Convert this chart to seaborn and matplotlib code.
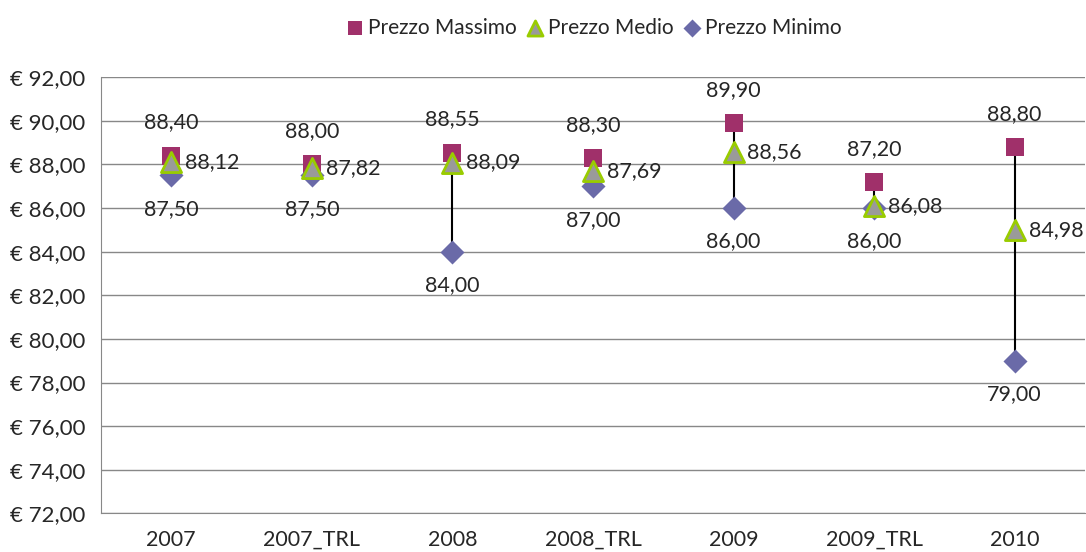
import pandas as pd
import matplotlib.pyplot as plt
import seaborn as sns
from matplotlib.ticker import FuncFormatter, FixedLocator

# data
anni = ["2007", "2007_TRL", "2008", "2008_TRL", "2009", "2009_TRL", "2010"]
prezzo_max = [88.40, 88.00, 88.55, 88.30, 89.90, 87.20, 88.80]
prezzo_medio = [88.12, 87.82, 88.09, 87.69, 88.56, 86.08, 84.98]
prezzo_min = [87.50, 87.50, 84.00, 87.00, 86.00, 86.00, 79.00]

df = pd.DataFrame({"Anno": anni, "Max": prezzo_max, "Medio": prezzo_medio, "Min": prezzo_min})

sns.set_style("white")
plt.rcParams["font.family"] = ["Lato", "DejaVu Sans"]

fig, ax = plt.subplots(figsize=(10.86, 5.52), dpi=100)
fig.subplots_adjust(left=0.093, right=0.999, top=0.86, bottom=0.07)

# high-low lines
for i, row in df.iterrows():
    ax.plot([i, i], [row["Min"], row["Max"]], color="black", lw=1.5, zorder=2)

sns.scatterplot(x="Anno", y="Max", data=df, marker="s", s=170, color="#A0306A",
                edgecolor="#A0306A", linewidth=0, label="Prezzo Massimo", zorder=3, ax=ax)
sns.scatterplot(x="Anno", y="Min", data=df, marker="D", s=150, color="#6A6AA8",
                edgecolor="#6A6AA8", linewidth=0, label="Prezzo Minimo", zorder=4, ax=ax)
sns.scatterplot(x="Anno", y="Medio", data=df, marker="^", s=210, color="#9A9A9A",
                edgecolor="#99CC00", linewidth=2, label="Prezzo Medio", zorder=5, ax=ax)

fmt = lambda v: f"{v:.2f}".replace(".", ",")
for i, row in df.iterrows():
    ax.annotate(fmt(row["Max"]), (i, row["Max"]), xytext=(0, 24), textcoords="offset points",
                ha="center", va="center", fontsize=15.5)
    ax.annotate(fmt(row["Min"]), (i, row["Min"]), xytext=(0, -24), textcoords="offset points",
                ha="center", va="center", fontsize=15.5)
    ax.annotate(fmt(row["Medio"]), (i, row["Medio"]), xytext=(10, 0), textcoords="offset points",
                ha="left", va="center", fontsize=15.5)

ax.set_ylim(72, 92)
ax.set_yticks(range(72, 93, 2))
ax.yaxis.set_major_formatter(FuncFormatter(lambda v, p: "€ " + fmt(v)))
ax.set_xlim(-0.5, len(anni) - 0.5)
ax.set_xticks(range(len(anni)))
ax.set_xticklabels(anni)
ax.xaxis.set_minor_locator(FixedLocator([i + 0.5 for i in range(-1, len(anni))]))
ax.tick_params(axis="x", which="major", length=0, labelsize=15.5, pad=12)
ax.tick_params(axis="x", which="minor", length=7, color="#888888", width=1, direction="inout")
ax.tick_params(axis="y", which="major", length=5, color="#888888", labelsize=16, pad=6)
ax.grid(axis="y", color="#888888", lw=1)
ax.set_axisbelow(True)
ax.set_xlabel("")
ax.set_ylabel("")
for s in ["top", "right"]:
    ax.spines[s].set_visible(False)
for s in ["left", "bottom"]:
    ax.spines[s].set_color("#888888")

# legend
h, l = ax.get_legend_handles_labels()
order = [0, 2, 1]
ax.legend([h[k] for k in order], [l[k] for k in order], loc="upper center",
          bbox_to_anchor=(0.5, 1.18), ncol=3, frameon=False, fontsize=15,
          handletextpad=0.1, columnspacing=0.4, handlelength=1.0, markerscale=0.75)

plt.savefig("out.png", dpi=100)
